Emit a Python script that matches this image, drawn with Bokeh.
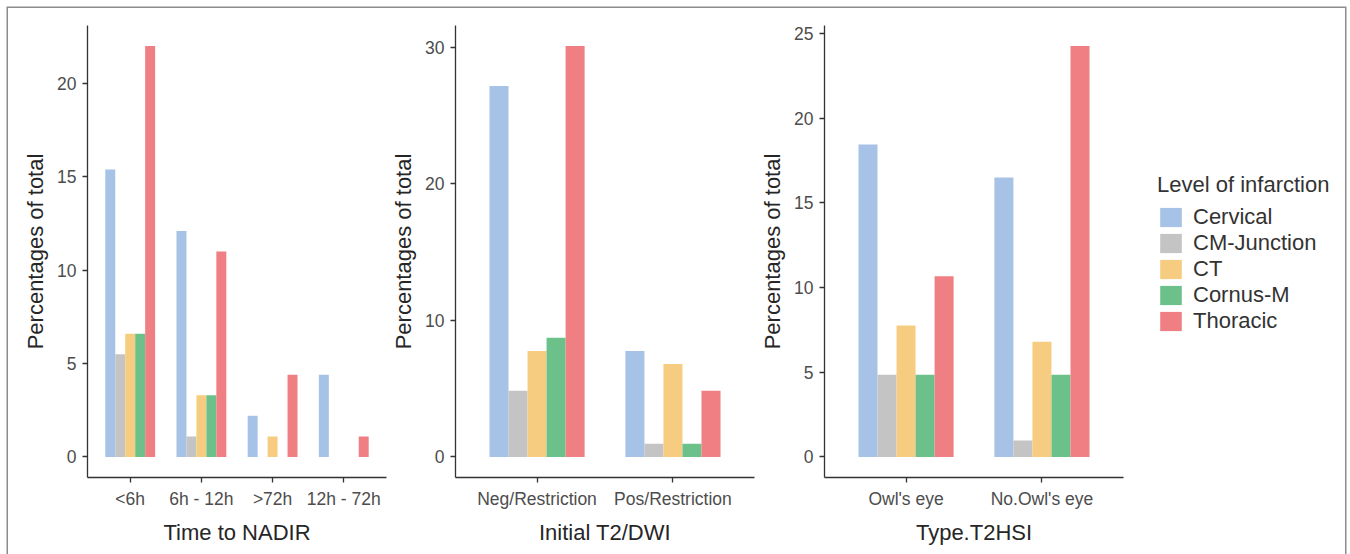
from bokeh.plotting import figure
from bokeh.models import (ColumnDataSource, FactorRange, Range1d, SingleIntervalTicker,
                          Legend, LegendItem)
from bokeh.layouts import row
from bokeh.transform import dodge
from bokeh.embed import file_html
from bokeh.resources import INLINE

# ---------------- data ----------------
levels = ["Cervical", "CM-Junction", "CT", "Cornus-M", "Thoracic"]

nadir_cats = ["<6h", "6h - 12h", ">72h", "12h - 72h"]
nadir_cervical = [15.38, 12.09, 2.20, 4.40]
nadir_cmj = [5.49, 1.10, 0.0, 0.0]
nadir_ct = [6.59, 3.30, 1.10, 0.0]
nadir_cornus = [6.59, 3.30, 0.0, 0.0]
nadir_thoracic = [21.98, 10.99, 4.40, 1.10]

dwi_cats = ["Neg/Restriction", "Pos/Restriction"]
dwi_cervical = [27.18, 7.77]
dwi_cmj = [4.85, 0.97]
dwi_ct = [7.77, 6.80]
dwi_cornus = [8.74, 0.97]
dwi_thoracic = [30.10, 4.85]

t2hsi_cats = ["Owl's eye", "No.Owl's eye"]
t2hsi_cervical = [18.45, 16.50]
t2hsi_cmj = [4.85, 0.97]
t2hsi_ct = [7.77, 6.80]
t2hsi_cornus = [4.85, 4.85]
t2hsi_thoracic = [10.68, 24.27]

# ---------------- style ----------------
FONT = "Liberation Sans"
COLORS = ["#A6C2E6", "#C4C4C4", "#F6CD80", "#6CC18A", "#F07F84"]
GROUP_W = 0.7
BAR_W = GROUP_W / len(levels)
AXIS_C = "#333333"
H = 546


def panel(cats, series, xlabel, interval, width, left, right):
    data = {"cat": cats}
    for i, s in enumerate(series):
        data[f"s{i}"] = s
    src = ColumnDataSource(data)
    top = max(max(s) for s in series)
    p = figure(x_range=FactorRange(factors=cats, range_padding=0.1,
                                   range_padding_units="absolute"),
               y_range=Range1d(-0.05 * top, 1.05 * top),
               width=width, height=H, output_backend="svg", toolbar_location=None,
               min_border_left=left, min_border_right=right,
               min_border_top=17, min_border_bottom=77)
    p.background_fill_color = "white"
    p.border_fill_color = "white"
    p.outline_line_color = None
    p.xgrid.grid_line_color = None
    p.ygrid.grid_line_color = None
    n = len(series)
    for i in range(n):
        off = (i - (n - 1) / 2) * BAR_W
        p.vbar(x=dodge("cat", off, range=p.x_range), top=f"s{i}", bottom=0,
               width=BAR_W, source=src, fill_color=COLORS[i], line_color=None)
    p.yaxis.ticker = SingleIntervalTicker(interval=interval, num_minor_ticks=0)
    p.xaxis.axis_label = xlabel
    p.yaxis.axis_label = "Percentages of total"
    for ax in (p.xaxis[0], p.yaxis[0]):
        ax.axis_line_color = AXIS_C
        ax.axis_line_width = 1.3
        ax.major_tick_line_color = AXIS_C
        ax.major_tick_line_width = 1.3
        ax.major_tick_out = 5
        ax.major_tick_in = 0
        ax.minor_tick_line_color = None
        ax.major_label_text_font = FONT
        ax.major_label_text_font_size = "17.5px"
        ax.major_label_text_color = "#4d4d4d"
        ax.axis_label_text_font = FONT
        ax.axis_label_text_font_size = "22px"
        ax.axis_label_text_color = "#262626"
        ax.axis_label_text_font_style = "normal"
        ax.major_label_standoff = 6
        ax.axis_label_standoff = 6
    p.xaxis.axis_label_standoff = 8
    return p


p1 = panel(nadir_cats, [nadir_cervical, nadir_cmj, nadir_ct, nadir_cornus, nadir_thoracic],
           "Time to NADIR", 5, 379, 79, 1)
p2 = panel(dwi_cats, [dwi_cervical, dwi_cmj, dwi_ct, dwi_cornus, dwi_thoracic],
           "Initial T2/DWI", 10, 369, 68, 2)
p3 = panel(t2hsi_cats, [t2hsi_cervical, t2hsi_cmj, t2hsi_ct, t2hsi_cornus, t2hsi_thoracic],
           "Type.T2HSI", 5, 381, 68, 14)

# legend figure (legend keys use proxy renderers holding no visible data)
p4 = figure(width=208, height=H, output_backend="svg", toolbar_location=None,
            x_range=Range1d(0, 1), y_range=Range1d(0, 1),
            x_axis_location=None, y_axis_location=None, min_border=0)
p4.outline_line_color = None
p4.background_fill_color = "white"
p4.border_fill_color = "white"
p4.xgrid.grid_line_color = None
p4.ygrid.grid_line_color = None
proxy = ColumnDataSource(dict(x=[float("nan")], top=[float("nan")]))
items = []
for lab, col in zip(levels, COLORS):
    r = p4.vbar(x="x", top="top", width=0.1, source=proxy, fill_color=col, line_color=None)
    items.append(LegendItem(label=lab, renderers=[r]))

legend = Legend(items=items, location=(20, 143), orientation="vertical")
legend.title = "Level of infarction"
legend.title_text_font = FONT
legend.title_text_font_size = "22px"
legend.title_text_font_style = "normal"
legend.title_text_color = "#333333"
legend.title_standoff = 6
legend.label_text_font = FONT
legend.label_text_font_size = "22px"
legend.label_text_color = "#333333"
legend.glyph_width = 27
legend.glyph_height = 24
legend.label_height = 0
legend.label_standoff = 9
legend.spacing = 0
legend.padding = 0
legend.margin = 0
legend.border_line_color = None
legend.background_fill_color = None
p4.add_layout(legend, "center")

layout = row(p1, p2, p3, p4,
             styles={"margin": "8px 0 0 8px", "box-shadow": "0 0 0 1.5px #8c8c8c"})

open("out.html", "w").write(file_html(layout, INLINE))
